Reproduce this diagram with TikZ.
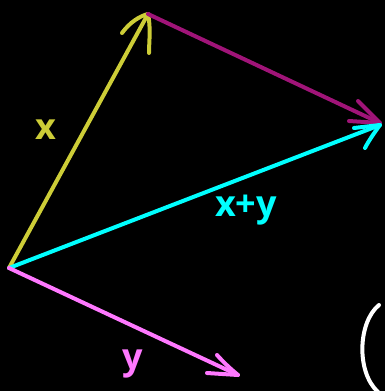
\documentclass[tikz,border=0pt]{standalone}
\usepackage{fontspec}
\setmainfont{Open Sans}
\definecolor{cyel}{RGB}{205,205,55}
\definecolor{cpur}{RGB}{160,20,120}
\definecolor{ccya}{RGB}{0,255,255}
\definecolor{cpnk}{RGB}{255,120,255}
\tikzset{
  vec/.style={line width=4pt, line cap=round, line join=round},
  lbl/.style={inner sep=0pt, font=\fontsize{36}{36}\selectfont\bfseries}
}
\begin{document}
\begin{tikzpicture}[x=1pt,y=-1pt]
\fill[black] (0,0) rectangle (385,391);
\useasboundingbox (0,0) rectangle (385,391);
\coordinate (O) at (9,268);
\coordinate (X) at (148,14);
\coordinate (S) at (380,123);
\coordinate (S2) at (380,125);
\coordinate (Y) at (238,375);
% yellow x
\draw[vec, cyel] (O) -- (X);
\draw[vec, cyel] (122,33) .. controls (130,22) and (140,16) .. (X) .. controls (151,28) and (149,42) .. (149,53);
% purple
\draw[vec, cpur] (X) -- (S);
\draw[vec, cpur] (358,101) .. controls (366,109) and (374,117) .. (S) -- (349,121);
% cyan
\draw[vec, ccya] (O) -- (S2);
\draw[vec, ccya] (354,128) -- (S2) .. controls (374,133) and (368,142) .. (365,148);
% pink
\draw[vec, cpnk] (O) -- (Y);
\draw[vec, cpnk] (217,355) .. controls (225,364) and (232,370) .. (Y) -- (207,373);
\node[lbl, text=cyel] (lx) at (46,130) {x};
\node[lbl, text=ccya] (lxy) at (246,210) {x+y};
\node[lbl, text=cpnk] (ly) at (133,364) {y};
\draw[white, line width=4pt, line cap=round] (379,305) .. controls (358,322) and (356,372) .. (378,392);
\end{tikzpicture}
\end{document}
